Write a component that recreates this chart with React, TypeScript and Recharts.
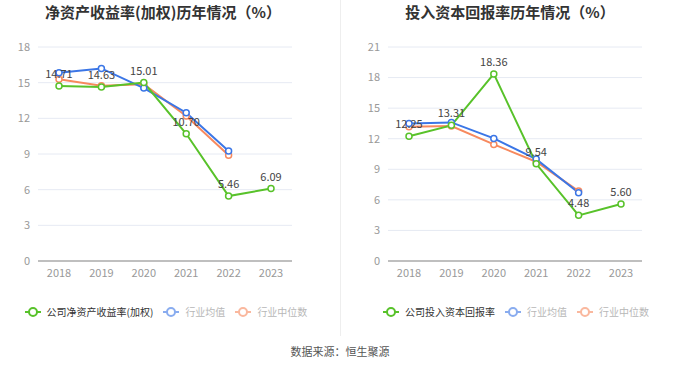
import { LineChart, Line, XAxis, YAxis, CartesianGrid, LabelList } from "recharts";

const YEARS = ["2018", "2019", "2020", "2021", "2022", "2023"];

const ROE_COMPANY = [14.71, 14.63, 15.01, 10.7, 5.46, 6.09];
const ROE_AVG = [15.84, 16.2, 14.55, 12.47, 9.25, null];
const ROE_MEDIAN = [15.28, 14.75, 14.86, 12.2, 8.89, null];
const ROE_TICKS = [0, 3, 6, 9, 12, 15, 18];

const ROIC_COMPANY = [12.25, 13.31, 18.36, 9.54, 4.48, 5.6];
const ROIC_AVG = [13.5, 13.6, 12.03, 10.0, 6.7, null];
const ROIC_MEDIAN = [13.17, 13.24, 11.44, 9.74, 6.86, null];
const ROIC_TICKS = [0, 3, 6, 9, 12, 15, 18, 21];

const GREEN = "#58c22a";
const BLUE = "#3b76e6";
const ORANGE = "#f7895e";
const FONT = "'Noto Sans CJK SC', 'Noto Sans', sans-serif";

const TICK = { fontSize: 11, fill: "#999", fontFamily: FONT };

function build(company: (number | null)[], avg: (number | null)[], median: (number | null)[]) {
  return YEARS.map((y, i) => ({ year: y, company: company[i], avg: avg[i], median: median[i] }));
}

function Panel({ data, ticks, max, left, marginRight, yWidth }: {
  data: any[]; ticks: number[]; max: number; left: number; marginRight: number; yWidth: number;
}) {
  const dot = (c: string) => ({ r: 3, stroke: c, strokeWidth: 1.5, fill: "#fff" });
  return (
    <div style={{ position: "absolute", left, top: 0 }}>
      <LineChart width={340} height={295} data={data} margin={{ top: 47, right: marginRight, bottom: 4, left: 0 }}>
        <CartesianGrid stroke="#e6eaf3" vertical={false} />
        <XAxis dataKey="year" tick={TICK} axisLine={{ stroke: "#bfbfbf", strokeWidth: 2 }} tickLine={false}
          height={30} padding={{ left: 21, right: 21 }} />
        <YAxis domain={[0, max]} ticks={ticks} tick={TICK} axisLine={false} tickLine={false} width={yWidth} interval={0} />
        <Line dataKey="median" stroke={ORANGE} strokeWidth={2} dot={dot(ORANGE)} isAnimationActive={false} />
        <Line dataKey="avg" stroke={BLUE} strokeWidth={2} dot={dot(BLUE)} isAnimationActive={false} />
        <Line dataKey="company" stroke={GREEN} strokeWidth={2} dot={dot(GREEN)} isAnimationActive={false}>
          <LabelList dataKey="company" position="top" offset={8}
            formatter={(v: any) => Number(v).toFixed(2)}
            style={{ fontSize: 11, fill: "#444", fontFamily: FONT }} />
        </Line>
      </LineChart>
    </div>
  );
}

function LegendItem({ color, label, faded }: { color: string; label: string; faded?: boolean }) {
  return (
    <span style={{ display: "inline-flex", alignItems: "center", marginRight: 10, opacity: faded ? 0.6 : 1 }}>
      <svg width={16} height={10} style={{ marginRight: 6 }}>
        <line x1={0} y1={5} x2={16} y2={5} stroke={color} strokeWidth={2} />
        <circle cx={8} cy={5} r={4} stroke={color} strokeWidth={2} fill="#fff" />
      </svg>
      <span style={{ color: faded ? "#888" : "#333" }}>{label}</span>
    </span>
  );
}

function Legend({ center, first }: { center: number; first: string }) {
  return (
    <div style={{
      position: "absolute", left: center - 165, width: 340, top: 304, textAlign: "center",
      fontSize: 10, fontFamily: FONT, whiteSpace: "nowrap",
    }}>
      <LegendItem color={GREEN} label={first} />
      <LegendItem color={BLUE} label="行业均值" faded />
      <LegendItem color={ORANGE} label="行业中位数" faded />
    </div>
  );
}

export default function App() {
  const roe = build(ROE_COMPANY, ROE_AVG, ROE_MEDIAN);
  const roic = build(ROIC_COMPANY, ROIC_AVG, ROIC_MEDIAN);
  const title = { position: "absolute" as const, top: 2, width: 340, textAlign: "center" as const,
    fontSize: 15, lineHeight: "20px", fontWeight: 700, color: "#333", fontFamily: FONT };
  return (
    <div style={{ position: "absolute", left: 0, top: 0, width: 680, height: 367, background: "#fff", overflow: "hidden" }}>
      <div style={{ ...title, left: -7 }}>净资产收益率(加权)历年情况（%）</div>
      <div style={{ ...title, left: 340 }}>投入资本回报率历年情况（%）</div>
      <div style={{ position: "absolute", left: 340, top: 0, width: 1, height: 336, background: "#eee" }} />
      <Panel data={roe} ticks={ROE_TICKS} max={18} left={0} marginRight={48} yWidth={38} />
      <Panel data={roic} ticks={ROIC_TICKS} max={21} left={340} marginRight={38} yWidth={48} />
      <Legend center={166} first="公司净资产收益率(加权)" />
      <Legend center={516} first="公司投入资本回报率" />
      <div style={{ position: "absolute", top: 343, width: 680, textAlign: "center", fontSize: 11, color: "#555", fontFamily: FONT }}>
        数据来源：恒生聚源
      </div>
    </div>
  );
}
